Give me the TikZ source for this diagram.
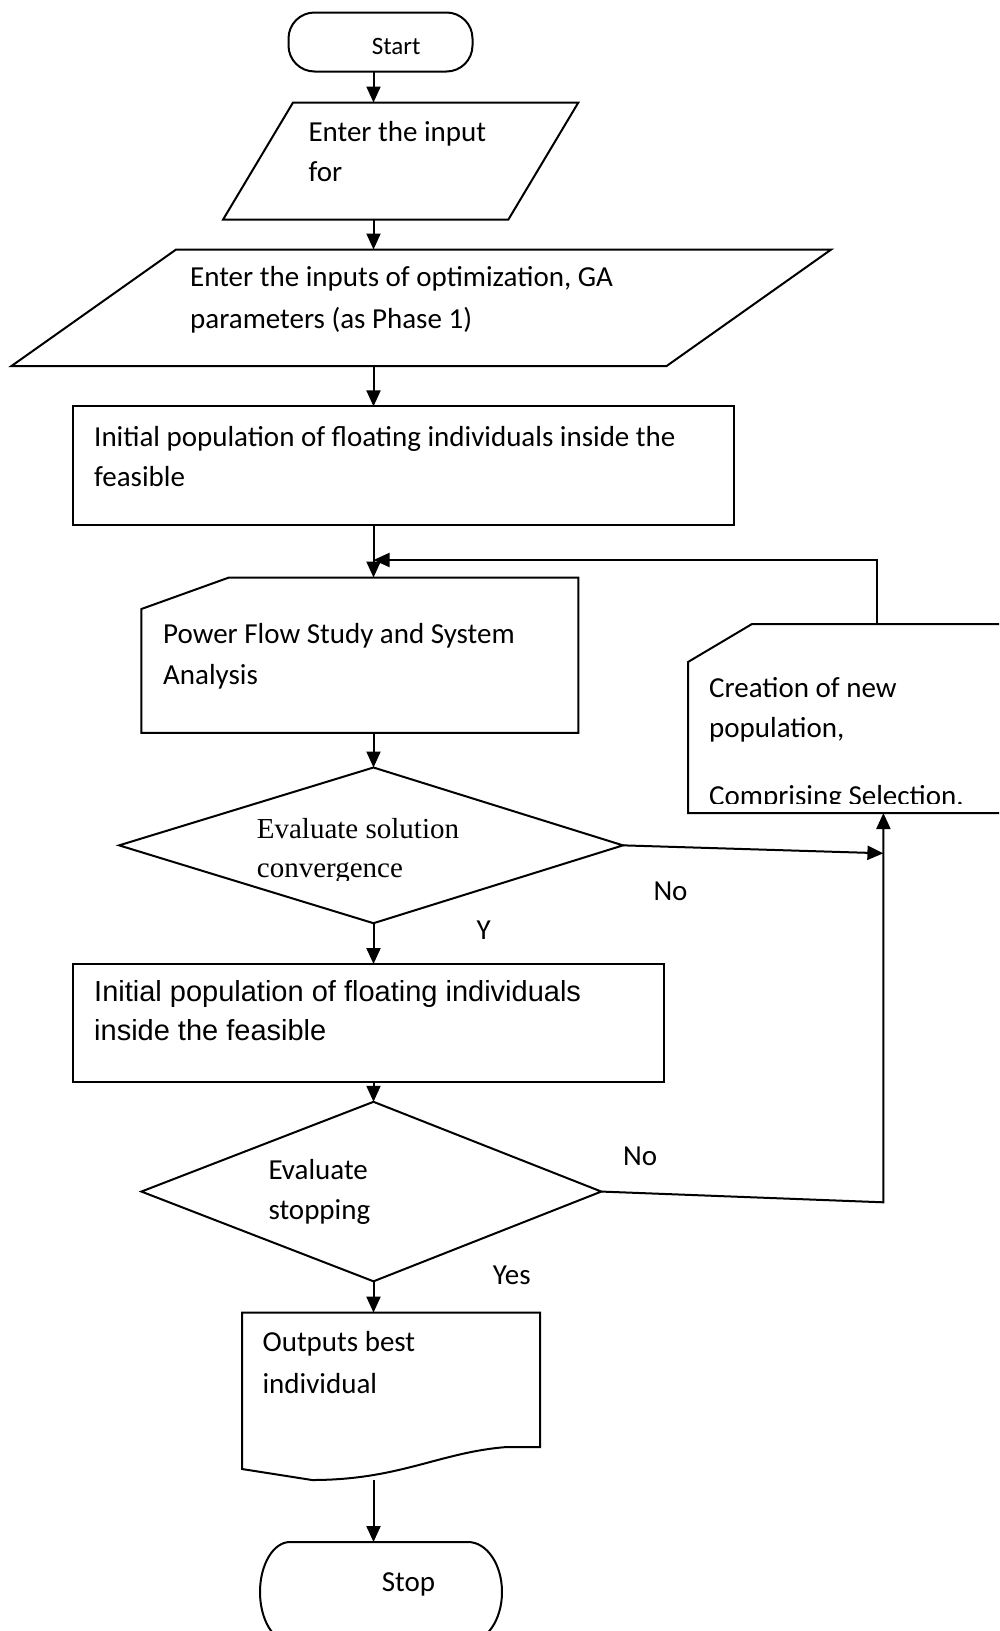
\documentclass[tikz,border=0pt]{standalone}
\usepackage{fontspec}
\setmainfont{Carlito}
\newfontfamily\arialfont{Liberation Sans}
\newfontfamily\timesfont{Liberation Serif}
\usetikzlibrary{arrows.meta}
\begin{document}
\begin{tikzpicture}[x=1pt,y=-1pt,
        frame/.style={inner sep=0pt,outer sep=0pt},
        edge/.style={line width=2pt,line join=miter},
        arr/.style={edge,-{Triangle[length=16pt,width=14pt]}},
        txt/.style={anchor=base west,inner sep=0pt,align=left,font=\fontsize{29pt}{41pt}\selectfont}]
        \clip (0,0) rectangle (999,1631);
        \fill[white] (0,0) rectangle (999,1631);
        \coordinate (spine) at (373.5,0);

        \node[frame,minimum width=184pt,minimum height=59pt] (start) at (380.5,42) {};
        \draw[edge,rounded corners=26pt] (start.north west) rectangle (start.south east);
        \node[txt,font=\fontsize{25pt}{30pt}\selectfont] (start-t) at (371.7,54) {Start};

        \node[frame,minimum width=355.3pt,minimum height=117.1pt] (inA) at (400.7,161.05) {};
        \draw[edge] ([xshift=70pt]inA.north west) -- (inA.north east) -- ([xshift=-70pt]inA.south east) -- (inA.south west) -- cycle;
        \node[txt,font=\fontsize{29pt}{40pt}\selectfont] (inA-t) at (308.3,181.7) {Enter the input\\for};

        \node[frame,minimum width=819.7pt,minimum height=116.5pt] (inB) at (421.35,307.75) {};
        \draw[edge] ([xshift=164.6pt]inB.north west) -- (inB.north east) -- ([xshift=-164.6pt]inB.south east) -- (inB.south west) -- cycle;
        \node[txt,font=\fontsize{29pt}{41.6pt}\selectfont] (inB-t) at (190,328.3) {Enter the inputs of optimization, GA\\parameters (as Phase 1)};

        \node[frame,minimum width=661.2pt,minimum height=118.6pt] (init) at (403.8,465.7) {};
        \draw[edge] (init.north west) rectangle (init.south east);
        \node[txt,font=\fontsize{29pt}{40pt}\selectfont] (init-t) at (94,486.7) {Initial population of floating individuals inside the\\feasible};

        \node[frame,minimum width=436.9pt,minimum height=155.4pt] (flow) at (359.85,655.2) {};
        \draw[edge] ([xshift=87.6pt]flow.north west) -- (flow.north east) -- (flow.south east) -- (flow.south west) -- ([yshift=-31.5pt]flow.north west) -- cycle;
        \node[txt] (flow-t) at (163,684) {Power Flow Study and System\\Analysis};

        \node[frame,minimum width=322pt,minimum height=189pt] (crt) at (849,718.5) {};
        \draw[edge] ([xshift=64pt]crt.north west) -- (crt.north east) -- (crt.south east) -- (crt.south west) -- ([yshift=-38pt]crt.north west) -- cycle;
        \begin{scope}
            \clip (crt.north west) rectangle ([yshift=9.5pt]crt.south east);
            \node[txt,font=\fontsize{29pt}{40pt}\selectfont] (crt-t) at (709,805) {Creation of new\\population,\\[27.7pt]Comprising Selection.};
        \end{scope}

        \node[frame,minimum width=503.9pt,minimum height=155.7pt] (dA) at (371.05,845.35) {};
        \draw[edge] (dA.north -| spine) -- (dA.east) -- (dA.south -| spine) -- (dA.west) -- cycle;
        \begin{scope}
            \clip (dA.west |- 0,767) rectangle (dA.east |- 0,880);
            \node[txt,font=\timesfont\fontsize{29pt}{39pt}\selectfont] (dA-t) at (256.7,877) {Evaluate solution\\convergence};
        \end{scope}

        \node[frame,minimum width=590.5pt,minimum height=117.8pt] (fin) at (368.45,1022.9) {};
        \draw[edge] (fin.north west) rectangle (fin.south east);
        \node[txt,font=\arialfont\fontsize{29pt}{38.3pt}\selectfont] (fin-t) at (94,1040) {Initial population of floating individuals\\inside the feasible};

        \node[frame,minimum width=459.9pt,minimum height=179.5pt] (dB) at (371.35,1191.55) {};
        \draw[edge] (dB.north -| spine) -- (dB.east) -- (dB.south -| spine) -- (dB.west) -- cycle;
        \node[txt,font=\fontsize{29pt}{40pt}\selectfont] (dB-t) at (268.3,1219.3) {Evaluate\\stopping};

        \node[frame,minimum width=298pt,minimum height=156.4pt] (out) at (391,1390.8) {};
        \draw[edge] (out.north west) -- (out.north east) -- (540,1447) -- (507,1447) .. controls (440,1452) and (400,1480) .. (312,1480) -- (out.south west) -- cycle;
        \node[txt,font=\fontsize{29pt}{42pt}\selectfont] (out-t) at (262.4,1393.8) {Outputs best\\individual};

        \node[frame,minimum width=242pt,minimum height=100pt] (stop) at (381,1592) {};
        \draw[edge] (290,1542) -- (468,1542) .. controls (486.8,1542) and (502,1564.4) .. (502,1592)
            .. controls (502,1619.6) and (486.8,1642) .. (468,1642) -- (290,1642)
            .. controls (273.4,1642) and (260,1619.6) .. (260,1592)
            .. controls (260,1564.4) and (273.4,1542) .. cycle;
        \node[txt] (stop-t) at (381.7,1591.7) {Stop};

        \node[txt] (no-a) at (653.3,900.7) {No};
        \node[txt] (yes-a) at (476.4,939) {Y};
        \node[txt] (no-b) at (623,1165.4) {No};
        \node[txt] (yes-b) at (492.7,1284) {Yes};

        \coordinate (back) at (876.7,560);
        \coordinate (hit) at (883.4,853.3);
        \coordinate (corner) at (883.4,1202.3);
        \coordinate (out-b) at (373.5,1480);

        \draw[arr] (start.south -| spine) -- (inA.north -| spine);
        \draw[arr] (inA.south -| spine) -- (inB.north -| spine);
        \draw[arr] (inB.south -| spine) -- (init.north -| spine);
        \draw[arr] (init.south -| spine) -- (flow.north -| spine);
        \draw[arr] (crt.north -| back) |- (spine |- back);
        \draw[arr] (flow.south -| spine) -- (dA.north -| spine);
        \draw[arr] (dA.east) -- (hit);
        \draw[arr] (dA.south -| spine) -- (fin.north -| spine);
        \draw[arr] (fin.south -| spine) -- (dB.north -| spine);
        \draw[arr] (dB.east) -- (corner) -- (corner |- crt.south);
        \draw[arr] (dB.south -| spine) -- (out.north -| spine);
        \draw[arr] (out-b) -- (stop.north -| spine);
    \end{tikzpicture}
\end{document}
